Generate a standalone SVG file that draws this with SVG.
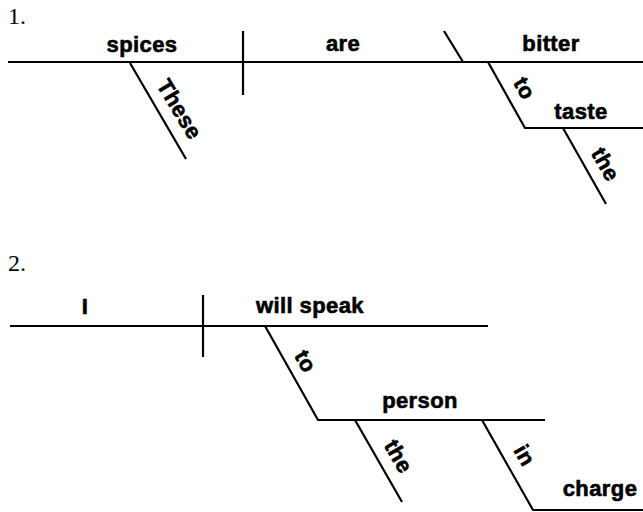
<svg xmlns="http://www.w3.org/2000/svg" width="643" height="512" viewBox="0 0 643 512">
<style>
.w{font-family:"Liberation Sans",Arial,sans-serif;font-weight:bold;font-size:22px;fill:#000;stroke:#000;stroke-width:0.6px;text-anchor:middle;letter-spacing:0.4px}
.n{font-family:"Liberation Serif","Times New Roman",serif;font-size:24px;fill:#000}
.ln{stroke:#000;stroke-width:2.2;fill:none;stroke-linecap:butt}
</style>
<rect width="643" height="512" fill="#fff"/>
<g id="connectors">
  <line class="ln" x1="8" y1="62" x2="643" y2="62"/>
  <line class="ln" x1="243" y1="31" x2="243" y2="95"/>
  <line class="ln" x1="130" y1="63" x2="186" y2="159"/>
  <line class="ln" x1="444" y1="31" x2="463" y2="62"/>
  <polyline class="ln" points="488,62 525,128 643,128"/>
  <line class="ln" x1="563" y1="128" x2="606" y2="204"/>
  <line class="ln" x1="10" y1="326" x2="488" y2="326"/>
  <line class="ln" x1="203" y1="295" x2="203" y2="357"/>
  <polyline class="ln" points="265,326 318,420 545,420"/>
  <line class="ln" x1="355" y1="420" x2="402" y2="502"/>
  <polyline class="ln" points="482,420 533,510 643,510"/>
</g>
<g id="label1"><text class="n" x="8" y="24">1.</text></g>
<g id="n-spices"><text class="w" x="142" y="52">spices</text></g>
<g id="n-these"><text class="w" transform="translate(173,113) rotate(59)">These</text></g>
<g id="n-are"><text class="w" x="343" y="51">are</text></g>
<g id="n-bitter"><text class="w" x="551" y="51">bitter</text></g>
<g id="n-to1"><text class="w" transform="translate(518,92) rotate(60.5)">to</text></g>
<g id="n-taste"><text class="w" x="581" y="119">taste</text></g>
<g id="n-the1"><text class="w" transform="translate(599,168) rotate(60.5)">the</text></g>
<g id="label2"><text class="n" x="8" y="271">2.</text></g>
<g id="n-I"><text class="w" x="85" y="314">I</text></g>
<g id="n-willspeak"><text class="w" x="310" y="313">will speak</text></g>
<g id="n-to2"><text class="w" transform="translate(299,365) rotate(60.5)">to</text></g>
<g id="n-person"><text class="w" x="420" y="408">person</text></g>
<g id="n-the2"><text class="w" transform="translate(392,460) rotate(60.2)">the</text></g>
<g id="n-in"><text class="w" transform="translate(518,459) rotate(60.5)">in</text></g>
<g id="n-charge"><text class="w" x="600" y="496">charge</text></g>
</svg>
